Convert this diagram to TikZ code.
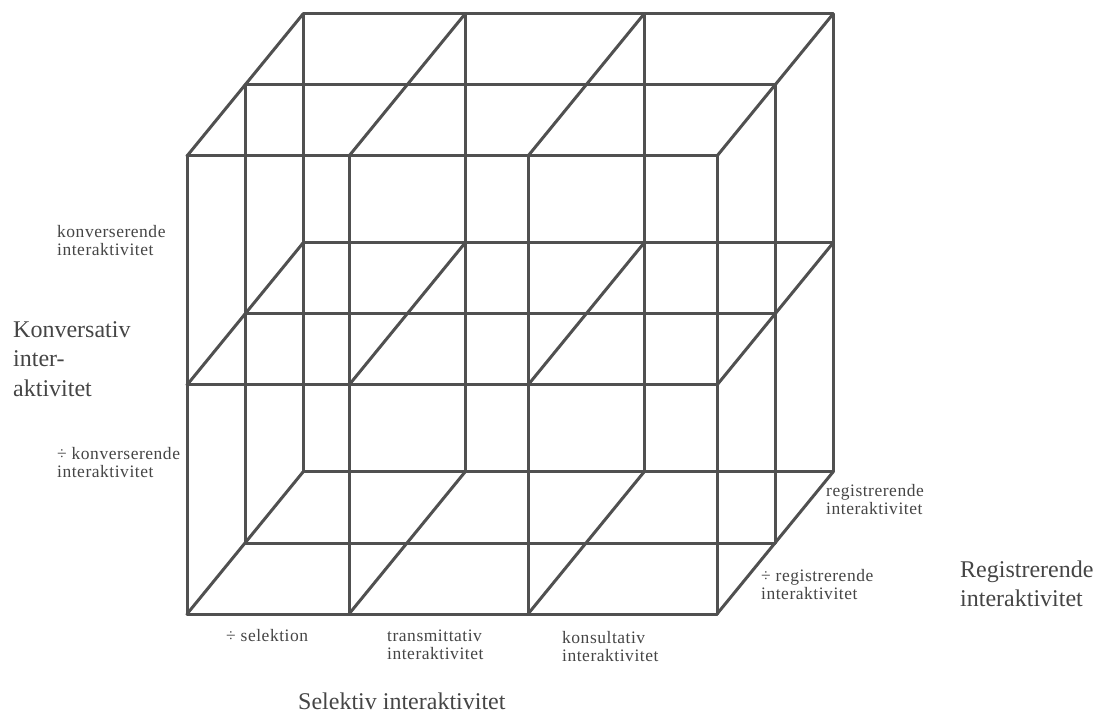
\documentclass[tikz,border=0pt]{standalone}
\usepackage{fontspec}
\setmainfont{Liberation Serif}
\definecolor{Ink}{HTML}{454545}
\definecolor{Pencil}{HTML}{505050}

\begin{document}
\begin{tikzpicture}[x=1pt,y=1pt,z={(58pt,71pt)},
    edge/.style={draw=Pencil,line width=3pt,line cap=round,line join=round},
    small/.style={text=Ink,inner sep=0pt,anchor=west,align=left,font=\fontsize{17.5}{18}\selectfont\addfontfeature{LetterSpace=3}},
    axis/.style={text=Ink,inner sep=0pt,anchor=west,align=left,font=\fontsize{24}{29.5}\selectfont}]
  \useasboundingbox (0,0) rectangle (1094,715);
  \begin{scope}[shift={(187,101)}]
    % front layer
    \draw[edge] (0,0,0) -- (530,0,0) (0,229,0) -- (530,229,0) (0,458,0) -- (530,458,0);
    \draw[edge] (0,0,0) -- (0,458,0) (162,0,0) -- (162,458,0) (341,0,0) -- (341,458,0) (530,0,0) -- (530,458,0);
    % middle layer
    \draw[edge] (0,0,1) -- (530,0,1) (0,229,1) -- (530,229,1) (0,458,1) -- (530,458,1);
    \draw[edge] (0,0,1) -- (0,458,1) (530,0,1) -- (530,458,1);
    % back layer
    \draw[edge] (0,0,2) -- (530,0,2) (0,229,2) -- (530,229,2) (0,458,2) -- (530,458,2);
    \draw[edge] (0,0,2) -- (0,458,2) (162,0,2) -- (162,458,2) (341,0,2) -- (341,458,2) (530,0,2) -- (530,458,2);
    % depth edges
    \draw[edge] (0,0,0) -- (0,0,2) (162,0,0) -- (162,0,2) (341,0,0) -- (341,0,2) (530,0,0) -- (530,0,2);
    \draw[edge] (0,229,0) -- (0,229,2) (162,229,0) -- (162,229,2) (341,229,0) -- (341,229,2) (530,229,0) -- (530,229,2);
    \draw[edge] (0,458,0) -- (0,458,2) (162,458,0) -- (162,458,2) (341,458,0) -- (341,458,2) (530,458,0) -- (530,458,2);
  \end{scope}

  \node[small] (konvPlus) at (57,474) {konverserende\\interaktivitet};
  \node[axis] (konvAxis) at (13,356) {Konversativ\\inter-\\aktivitet};
  \node[small] (konvMinus) at (57,252) {÷ konverserende\\interaktivitet};

  \node[small] (regPlus) at (826,215) {registrerende\\interaktivitet};
  \node[small] (regMinus) at (761,130) {÷ registrerende\\interaktivitet};
  \node[axis] (regAxis) at (960,131) {Registrerende\\interaktivitet};

  \node[small] (selMinus) at (226,79) {÷ selektion};
  \node[small] (selTrans) at (387,70) {transmittativ\\interaktivitet};
  \node[small] (selKons) at (562,68) {konsultativ\\interaktivitet};
  \node[axis] (selAxis) at (298,14) {Selektiv interaktivitet};
\end{tikzpicture}
\end{document}
